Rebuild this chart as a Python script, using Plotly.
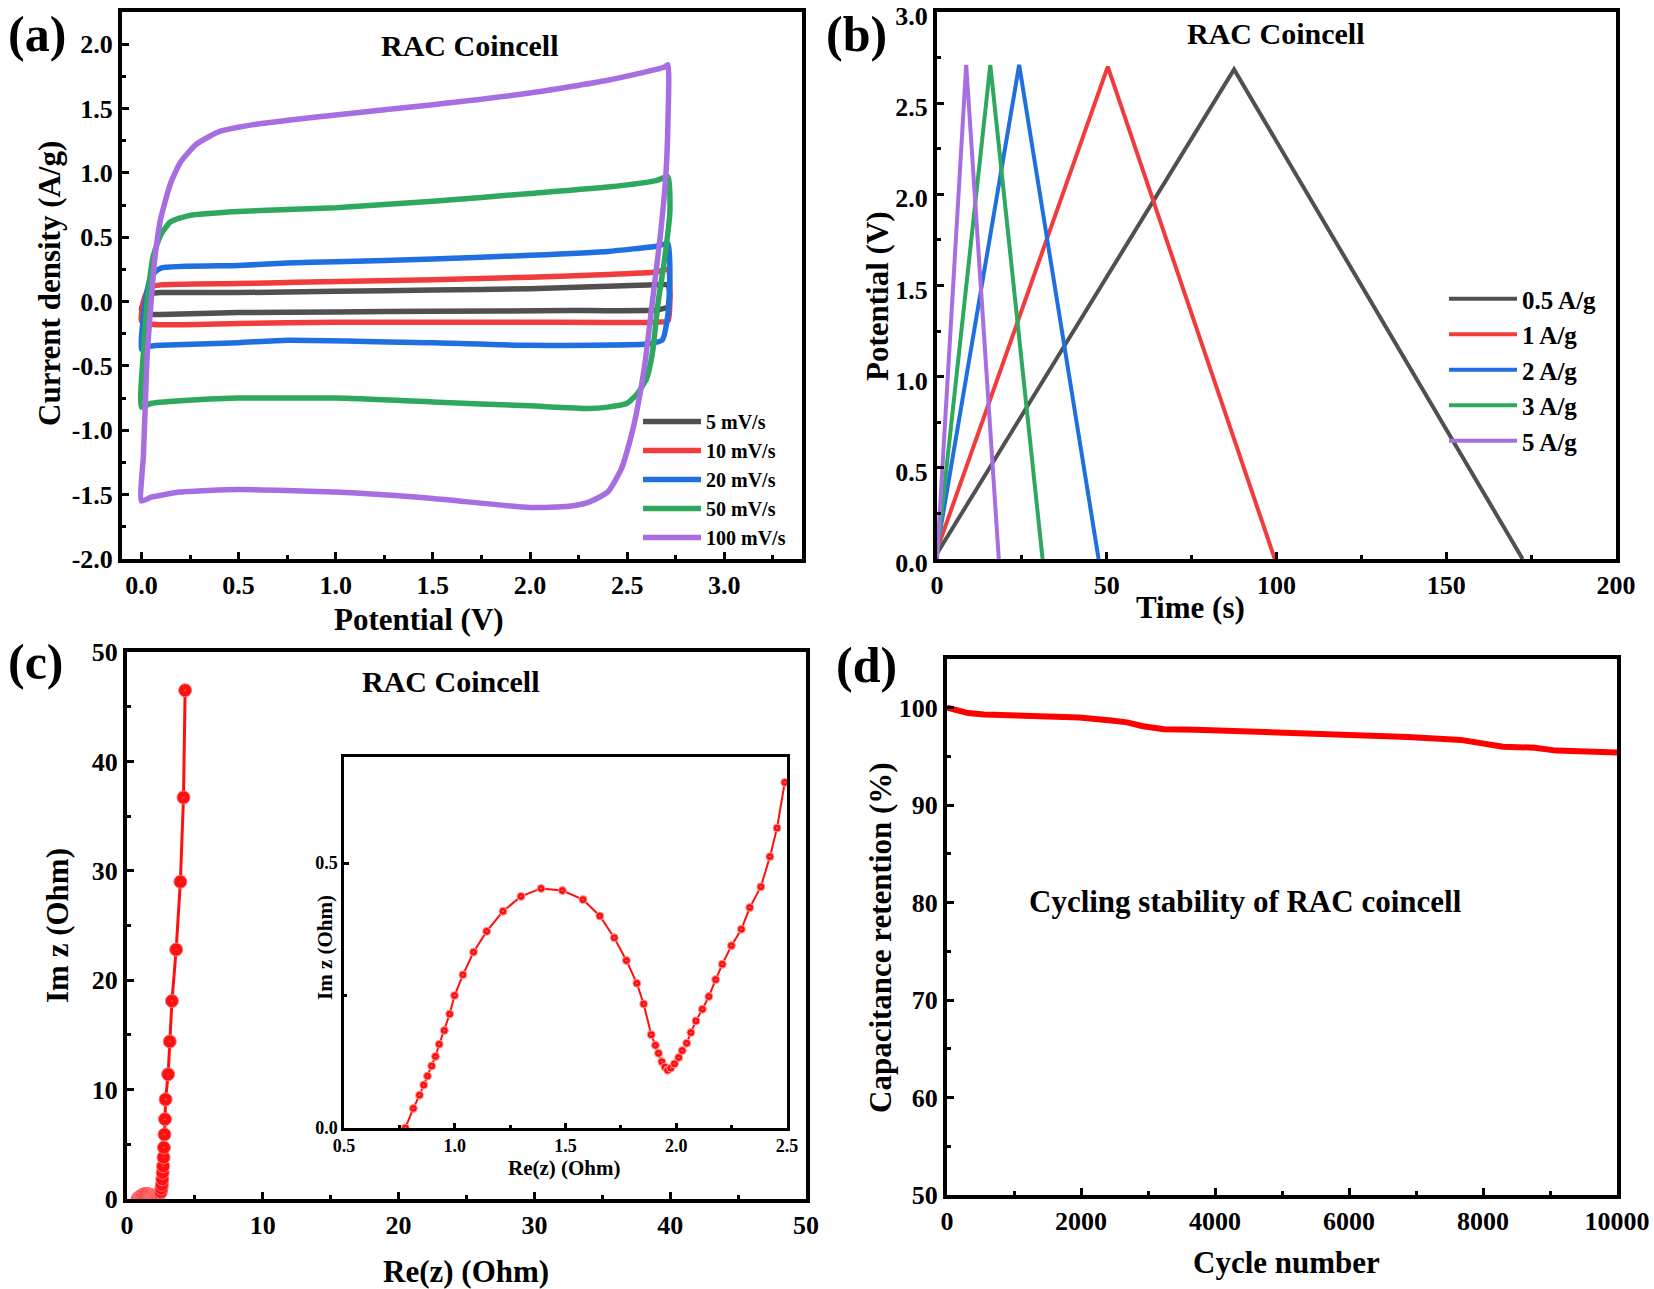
import plotly.graph_objects as go

FONT = "Liberation Serif"
W, H = 1654, 1289

# ---------------- (a) Cyclic voltammetry ----------------
cv_labels = ["5 mV/s", "10 mV/s", "20 mV/s", "50 mV/s", "100 mV/s"]
cv_colors = ["#505050", "#f03c3c", "#1f6fe0", "#2ea85c", "#a66ee0"]

cv5_v = [0.0, 0.02, 0.05, 0.1, 0.5, 1.0, 1.5, 2.0, 2.4, 2.65, 2.71, 2.72, 2.71, 2.65, 2.2, 1.5, 1.0, 0.5, 0.1, 0.05, 0.02, 0.0]
cv5_i = [-0.06, 0.02, 0.06, 0.07, 0.07, 0.08, 0.09, 0.10, 0.12, 0.13, 0.13, 0.05, -0.04, -0.065, -0.07, -0.075, -0.08, -0.085, -0.10, -0.10, -0.08, -0.06]

cv10_v = [0.0, 0.01, 0.04, 0.1, 0.5, 0.8, 1.5, 2.0, 2.4, 2.65, 2.71, 2.72, 2.71, 2.65, 2.0, 1.5, 1.0, 0.5, 0.1, 0.03, 0.0]
cv10_i = [-0.15, 0.0, 0.11, 0.13, 0.14, 0.15, 0.17, 0.19, 0.21, 0.23, 0.25, 0.05, -0.15, -0.16, -0.16, -0.16, -0.16, -0.17, -0.18, -0.17, -0.15]

cv20_v = [0.0, 0.02, 0.05, 0.1, 0.5, 0.75, 1.0, 1.5, 2.0, 2.4, 2.65, 2.71, 2.72, 2.71, 2.68, 2.6, 2.0, 1.5, 0.75, 0.5, 0.1, 0.03, 0.0]
cv20_i = [-0.37, 0.0, 0.2, 0.26, 0.28, 0.30, 0.31, 0.33, 0.36, 0.39, 0.43, 0.45, 0.2, -0.1, -0.3, -0.33, -0.34, -0.32, -0.30, -0.32, -0.34, -0.35, -0.37]

cv50_v = [0.0, 0.01, 0.03, 0.06, 0.1, 0.15, 0.25, 0.5, 1.0, 1.5, 2.0, 2.4, 2.65, 2.71, 2.72, 2.69, 2.66, 2.63, 2.6, 2.55, 2.5, 2.4, 2.3, 2.0, 1.5, 1.0, 0.5, 0.2, 0.05, 0.0]
cv50_i = [-0.82, -0.4, 0.0, 0.35, 0.52, 0.62, 0.67, 0.70, 0.73, 0.78, 0.84, 0.89, 0.94, 0.97, 0.7, 0.3, 0.0, -0.4, -0.6, -0.72, -0.79, -0.82, -0.83, -0.81, -0.78, -0.75, -0.75, -0.77, -0.79, -0.82]

cv100_v = [0.0, 0.01, 0.02, 0.03, 0.05, 0.07, 0.1, 0.15, 0.2, 0.28, 0.4, 0.6, 1.0, 1.5, 2.0, 2.4, 2.69, 2.71, 2.71, 2.7, 2.67, 2.63, 2.59, 2.55, 2.52, 2.47, 2.4, 2.3, 2.2, 2.0, 1.5, 1.0, 0.5, 0.2, 0.05, 0.0]
cv100_i = [-1.55, -1.2, -0.8, -0.4, 0.0, 0.35, 0.65, 0.92, 1.08, 1.22, 1.32, 1.38, 1.45, 1.53, 1.62, 1.72, 1.82, 1.84, 1.4, 1.0, 0.5, 0.0, -0.5, -0.85, -1.05, -1.3, -1.48, -1.56, -1.59, -1.60, -1.53, -1.48, -1.46, -1.48, -1.52, -1.55]

cv_v = [cv5_v, cv10_v, cv20_v, cv50_v, cv100_v]
cv_i = [cv5_i, cv10_i, cv20_i, cv50_i, cv100_i]

a_yticks = [-2.0, -1.5, -1.0, -0.5, 0.0, 0.5, 1.0, 1.5, 2.0]
a_yticktext = ["-2.0", "-1.5", "-1.0", "-0.5", "0.0", "0.5", "1.0", "1.5", "2.0"]

# ---------------- (b) Galvanostatic charge-discharge ----------------
gcd_labels = ["0.5 A/g", "1 A/g", "2 A/g", "3 A/g", "5 A/g"]
gcd_colors = ["#505050", "#f03c3c", "#1f6fe0", "#2ea85c", "#a66ee0"]
gcd_t05 = [0.0, 87.5, 172.5]
gcd_v05 = [0.03, 2.685, 0.0]
gcd_t1 = [0.0, 50.3, 99.5]
gcd_v1 = [0.05, 2.70, 0.0]
gcd_t2 = [0.0, 24.2, 47.6]
gcd_v2 = [0.05, 2.71, 0.0]
gcd_t3 = [0.0, 15.7, 31.1]
gcd_v3 = [0.02, 2.71, 0.0]
gcd_t5 = [0.0, 8.6, 18.2]
gcd_v5 = [0.0, 2.71, 0.0]
gcd_t = [gcd_t05, gcd_t1, gcd_t2, gcd_t3, gcd_t5]
gcd_v = [gcd_v05, gcd_v1, gcd_v2, gcd_v3, gcd_v5]
b_yticks = [0.0, 0.5, 1.0, 1.5, 2.0, 2.5, 3.0]
b_yticktext = ["0.0", "0.5", "1.0", "1.5", "2.0", "2.5", "3.0"]

# ---------------- (c) Nyquist ----------------
eis_re_low = [0.777, 0.813, 0.841, 0.860, 0.877, 0.896, 0.913, 0.930, 0.953, 0.977, 0.999, 1.037, 1.085,
              1.144, 1.218, 1.299, 1.390, 1.486, 1.579, 1.655, 1.720, 1.775, 1.822, 1.853, 1.887, 1.906,
              1.920, 1.935, 1.949, 1.961, 1.975, 1.992, 2.011, 2.027, 2.047, 2.066, 2.089, 2.118, 2.147,
              2.178, 2.208, 2.249, 2.294, 2.332, 2.382, 2.423, 2.455, 2.490]
eis_im_low = [0.0, 0.037, 0.062, 0.081, 0.098, 0.117, 0.135, 0.158, 0.184, 0.215, 0.250, 0.289, 0.332,
              0.371, 0.409, 0.437, 0.452, 0.448, 0.431, 0.400, 0.359, 0.316, 0.273, 0.234, 0.176, 0.156,
              0.141, 0.125, 0.115, 0.109, 0.113, 0.121, 0.133, 0.146, 0.160, 0.180, 0.202, 0.224, 0.248,
              0.280, 0.309, 0.344, 0.375, 0.416, 0.455, 0.512, 0.566, 0.652]
eis_re_high = [2.53, 2.57, 2.60, 2.63, 2.66, 2.69, 2.72, 2.76, 2.80, 2.84, 3.03, 3.15, 3.31, 3.62, 3.93, 4.16, 4.28]
eis_im_high = [0.95, 1.3, 1.8, 2.4, 3.0, 3.8, 4.7, 5.9, 7.3, 9.1, 11.4, 14.4, 18.1, 22.8, 29.0, 36.7, 46.5]
eis_re = eis_re_low + eis_re_high
eis_im = eis_im_low + eis_im_high

# ---------------- (d) Cycling stability ----------------
cyc_n = [0, 316, 553, 1000, 1344, 1976, 2450, 2688, 2925, 3241, 3715, 4506, 5296, 6087, 6877, 7668, 7984, 8300, 8775, 9091, 10000]
cyc_ret = [100.0, 99.45, 99.3, 99.25, 99.2, 99.0, 98.7, 98.5, 98.1, 97.8, 97.75, 97.6, 97.3, 97.2, 97.0, 96.7, 96.3, 96.0, 95.9, 95.6, 95.4]

fig = go.Figure()

for lab, col, v, i in zip(cv_labels, cv_colors, cv_v, cv_i):
    fig.add_trace(go.Scatter(x=v, y=i, mode="lines", name=lab,
                             line=dict(color=col, width=5.5, shape="spline", smoothing=0.5),
                             xaxis="x", yaxis="y", legend="legend"))
for lab, col, t, v in zip(gcd_labels, gcd_colors, gcd_t, gcd_v):
    fig.add_trace(go.Scatter(x=t, y=v, mode="lines", name=lab, line=dict(color=col, width=4),
                             xaxis="x2", yaxis="y2", legend="legend2"))
fig.add_trace(go.Scatter(x=eis_re, y=eis_im, mode="lines+markers", showlegend=False,
                         line=dict(color="#ff1010", width=3),
                         marker=dict(symbol="circle-dot", size=13, color="#ff1010", line=dict(color="#ff7070", width=1)),
                         xaxis="x3", yaxis="y3"))
fig.add_trace(go.Scatter(x=eis_re_low, y=eis_im_low, mode="lines+markers", showlegend=False,
                         line=dict(color="#ff1010", width=2),
                         marker=dict(symbol="circle-dot", size=8, color="#ff1010", line=dict(color="#ffa0a0", width=1)),
                         xaxis="x5", yaxis="y5"))
fig.add_trace(go.Scatter(x=cyc_n, y=cyc_ret, mode="lines", showlegend=False,
                         line=dict(color="#ff0000", width=6), xaxis="x4", yaxis="y4"))


def ax(dom, anchor, rng, dtick=None, tick0=None, minor_dtick=None, fmt=None,
       tsize=26, tickvals=None, ticktext=None, lw=4, tl=7, mtl=4):
    d = dict(domain=dom, anchor=anchor, range=rng, showline=True, linewidth=lw, linecolor="black",
             mirror=True, ticks="inside", ticklen=tl, tickwidth=3, tickcolor="black",
             showgrid=False, zeroline=False, automargin=False, ticklabeloverflow="allow",
             tickfont=dict(family=FONT, size=tsize, color="black", weight="bold"))
    if tickvals is not None:
        d.update(tickmode="array", tickvals=tickvals, ticktext=ticktext)
    else:
        d.update(tickmode="linear", dtick=dtick, tick0=tick0)
    if fmt:
        d["tickformat"] = fmt
    if minor_dtick:
        d["minor"] = dict(ticks="inside", ticklen=mtl, tickwidth=2.5, tickcolor="black",
                          dtick=minor_dtick, tick0=tick0 if tick0 is not None else 0, showgrid=False)
    return d


def px(x0, x1):
    return [x0 / W, x1 / W]


def py(top, bottom):
    return [1 - bottom / H, 1 - top / H]


yaxis2 = ax(py(12, 559), "x2", [0, 3.0], tickvals=b_yticks, ticktext=b_yticktext, minor_dtick=0.25, tick0=0)
yaxis2["ticklabelshift"] = 4

layout = dict(
    width=W, height=H, margin=dict(l=0, r=0, t=0, b=0),
    paper_bgcolor="white", plot_bgcolor="white",
    xaxis=ax(px(122, 802), "y", [-0.1, 3.4], dtick=0.5, tick0=0, minor_dtick=0.25, fmt=".1f"),
    yaxis=ax(py(12, 559), "x", [-2.0, 2.25], tickvals=a_yticks, ticktext=a_yticktext, minor_dtick=0.25, tick0=0),
    xaxis2=ax(px(937, 1616), "y2", [0, 200], dtick=50, tick0=0, minor_dtick=25),
    yaxis2=yaxis2,
    xaxis3=ax(px(127, 806), "y3", [0, 50], dtick=10, tick0=0, minor_dtick=5),
    yaxis3=ax(py(652, 1199), "x3", [0, 50], dtick=10, tick0=0, minor_dtick=5),
    xaxis4=ax(px(947, 1617), "y4", [0, 10000], dtick=2000, tick0=0, minor_dtick=1000, fmt="d"),
    yaxis4=ax(py(659, 1195), "x4", [50, 105], dtick=10, tick0=50, minor_dtick=5),
    xaxis5=ax(px(344, 787), "y5", [0.5, 2.5], dtick=0.5, tick0=0.5, minor_dtick=0.25,
              fmt=".1f", tsize=18, lw=2.5, tl=5, mtl=3),
    yaxis5=ax(py(757, 1128), "x5", [0, 0.70], tickvals=[0.0, 0.5], ticktext=["0.0", "0.5"],
              minor_dtick=0.25, tick0=0, tsize=18, lw=2.5, tl=5, mtl=3),
    legend=dict(x=638 / W, y=1 - 402 / H, xanchor="left", yanchor="top", bgcolor="rgba(0,0,0,0)",
                font=dict(family=FONT, size=20, color="black", weight="bold"), itemwidth=58,
                tracegroupgap=0),
    legend2=dict(x=1444 / W, y=1 - 276 / H, xanchor="left", yanchor="top", bgcolor="rgba(0,0,0,0)",
                 font=dict(family=FONT, size=25, color="black", weight="bold"), itemwidth=68,
                 tracegroupgap=0),
)
fig.update_layout(**layout)

lab_font = dict(family=FONT, size=50, color="black", weight="bold")
txt_font = dict(family=FONT, size=30, color="black", weight="bold")
tit_font = dict(family=FONT, size=31, color="black", weight="bold")
ins_font = dict(family=FONT, size=21, color="black", weight="bold")


def pa(text, x, y, font, angle=0):
    return dict(text=text, x=x / W, y=1 - y / H, xref="paper", yref="paper", showarrow=False,
                font=font, textangle=angle, xanchor="center", yanchor="middle")


annos = [
    pa("(a)", 37, 34, lab_font),
    pa("(b)", 856, 34, lab_font),
    pa("(c)", 36, 662, lab_font),
    pa("(d)", 866, 665, lab_font),
    # axis titles
    pa("Potential (V)", 419, 620, tit_font),
    pa("Current density (A/g)", 50, 284, tit_font, -90),
    pa("Time (s)", 1190, 607, tit_font),
    pa("Potential (V)", 877, 296, tit_font, -90),
    pa("Re(z) (Ohm)", 466, 1271, tit_font),
    pa("Im z (Ohm)", 57, 926, tit_font, -90),
    pa("Cycle number", 1286, 1262, tit_font),
    pa("Capacitance retention (%)", 880, 938, tit_font, -90),
    pa("Re(z) (Ohm)", 564, 1168, ins_font),
    pa("Im z (Ohm)", 325, 948, ins_font, -90),
    # in-plot texts
    dict(text="RAC Coincell", x=1.69, y=1.99, xref="x", yref="y", showarrow=False, font=txt_font),
    dict(text="RAC Coincell", x=99.8, y=2.88, xref="x2", yref="y2", showarrow=False, font=txt_font),
    dict(text="RAC Coincell", x=23.8, y=47.3, xref="x3", yref="y3", showarrow=False, font=txt_font),
    dict(text="Cycling stability of RAC coincell", x=4454, y=80.1, xref="x4", yref="y4", showarrow=False,
         font=dict(family=FONT, size=31, color="black", weight="bold")),
]
fig.update_layout(annotations=annos)

fig.write_html("out.html", config={"displayModeBar": False},
               post_script="document.body.style.margin='0';document.body.style.padding='0';"
                           "document.body.style.overflow='hidden';"
                           "document.documentElement.style.overflow='hidden';")
